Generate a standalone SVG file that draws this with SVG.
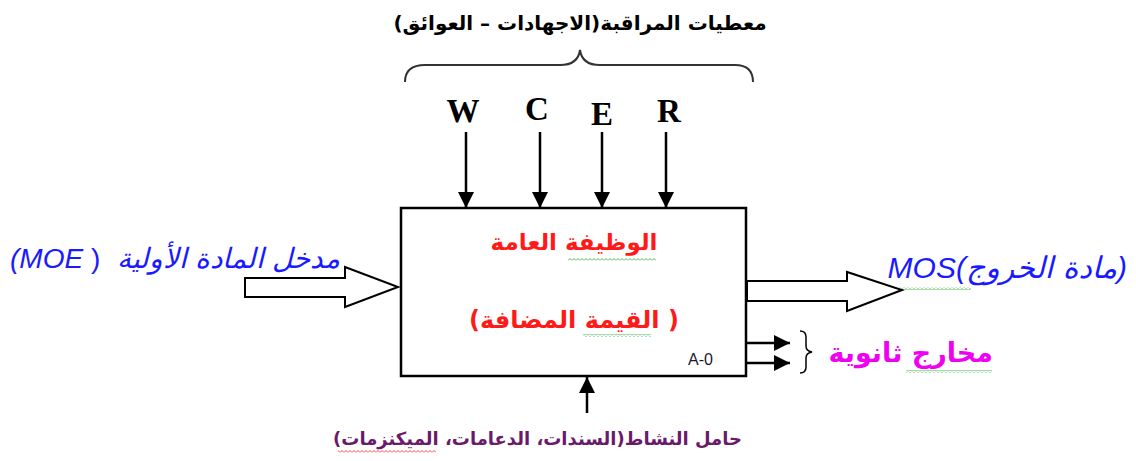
<svg xmlns="http://www.w3.org/2000/svg" width="1136" height="461" viewBox="0 0 1136 461">
<style>
.ar{font-family:"DejaVu Sans",sans-serif;font-weight:bold}
.ctl{font-family:"Liberation Serif",serif;font-weight:bold;font-size:33px;fill:#000;text-anchor:middle}
.line{stroke:#000;stroke-width:2.5;fill:none}
.hollow{fill:#fff;stroke:#000;stroke-width:2}
.blue{font-family:"Liberation Sans","DejaVu Sans",sans-serif;font-style:italic;fill:#1a1aff}
.red{fill:#ff1a1a;text-anchor:middle}
</style>
<defs>
<marker id="ahb" viewBox="0 0 10 10" refX="10" refY="5" markerWidth="16" markerHeight="16" markerUnits="userSpaceOnUse" orient="auto">
<path d="M0,0 L10,5 L0,10 Z" fill="#000"/>
</marker>
<pattern id="sqg" width="4" height="3" patternUnits="userSpaceOnUse">
<path d="M0,2.5 L2,0.5 L4,2.5" fill="none" stroke="#3cb043" stroke-width="0.9"/>
</pattern>
<pattern id="sqr" width="4" height="3" patternUnits="userSpaceOnUse">
<path d="M0,2.5 L2,0.5 L4,2.5" fill="none" stroke="#ff3030" stroke-width="0.9"/>
</pattern>
</defs>
<rect width="1136" height="461" fill="#fff"/>

<g id="title">
<text class="ar" x="580" y="30" font-size="20" text-anchor="middle" direction="rtl" fill="#000">معطيات المراقبة(الاجهادات – العوائق)</text>
<path d="M405,82 Q405,65 425,65 L560,65 Q578,65 580,50 Q582,65 600,65 L735,65 Q753,65 753,82" fill="none" stroke="#333" stroke-width="2"/>
</g>

<g id="controls">
<text class="ctl" x="463" y="122">W</text>
<text class="ctl" x="537" y="120">C</text>
<text class="ctl" x="602" y="125">E</text>
<text class="ctl" x="669" y="122">R</text>
</g>

<g id="box">
<rect x="401" y="208" width="345" height="168" fill="#fff" stroke="#000" stroke-width="2.5"/>
<text class="ar red" x="574" y="250" font-size="23" direction="rtl">الوظيفة العامة</text>
<text class="ar red" x="574" y="328" font-size="24" direction="rtl">( القيمة المضافة)</text>
<text x="688" y="365" font-family="Liberation Sans,sans-serif" font-size="16" fill="#1a1a2e">A-0</text>
<rect x="568" y="258" width="88" height="3" fill="url(#sqg)"/>
<rect x="583" y="334" width="68" height="3" fill="url(#sqg)"/>
</g>

<g id="input">
<text class="blue" x="10" y="268" font-size="28">(MOE <tspan font-style="normal">)</tspan></text>
<text class="blue" x="340" y="268" font-size="28" text-anchor="start" direction="rtl" font-family="DejaVu Sans,sans-serif">مدخل المادة الأولية</text>
</g>

<g id="output">
<text class="blue" x="1127" y="278" font-size="30" text-anchor="start" direction="rtl">(<tspan font-family="DejaVu Sans,sans-serif">مادة الخروج</tspan>)MOS</text>
<rect x="897" y="287" width="74" height="3" fill="url(#sqg)"/>
</g>

<g id="secondary">
<path d="M800,331 Q806,331 806,337 L806,346 Q806,351 812,352 Q806,353 806,358 L806,367 Q806,373 800,373" fill="none" stroke="#000" stroke-width="1.5"/>
<text class="ar" x="993" y="362" font-size="27" text-anchor="start" direction="rtl" fill="#f000f0">مخارج ثانوية</text>
<rect x="906" y="370" width="86" height="3" fill="url(#sqg)"/>
</g>

<g id="mechanism">
<text class="ar" x="742" y="445" font-size="18" text-anchor="start" direction="rtl" fill="#6a1a6a">حامل النشاط(السندات، الدعامات، الميكنزمات)</text>
<rect x="338" y="450" width="98" height="3" fill="url(#sqr)"/>
</g>

<g id="connectors">
<line class="line" x1="466" y1="132" x2="466" y2="208" marker-end="url(#ahb)"/>
<line class="line" x1="540" y1="132" x2="540" y2="208" marker-end="url(#ahb)"/>
<line class="line" x1="602" y1="132" x2="602" y2="208" marker-end="url(#ahb)"/>
<line class="line" x1="666" y1="132" x2="666" y2="208" marker-end="url(#ahb)"/>
<polygon class="hollow" points="245,278 345,278 345,267 398,287 345,307 345,297 245,297"/>
<polygon class="hollow" points="747,281 847,281 847,272 902,290 847,311 847,301 747,301"/>
<line class="line" x1="746" y1="343" x2="790" y2="343" marker-end="url(#ahb)"/>
<line class="line" x1="746" y1="363" x2="790" y2="363" marker-end="url(#ahb)"/>
<line class="line" x1="587" y1="413" x2="587" y2="377" marker-end="url(#ahb)"/>
</g>
</svg>
